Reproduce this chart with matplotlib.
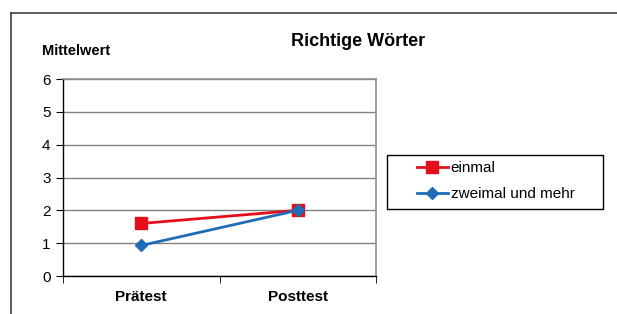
import matplotlib.pyplot as plt
from matplotlib.lines import Line2D
from matplotlib.patches import Rectangle

plt.rcParams['font.family'] = ['Liberation Sans', 'DejaVu Sans']

# data
categories = ["Prätest", "Posttest"]
einmal = [1.6, 2.0]
zweimal = [0.93, 2.0]
y_ticks = [0, 1, 2, 3, 4, 5, 6]

red = "#e3101b"
blue = "#1f6db5"

fig = plt.figure(figsize=(6.17, 3.14), dpi=100)
ax = fig.add_axes([63/617, 1 - 276/314, 313/617, 197/314])

x = list(range(len(categories)))
ax.plot(x, einmal, color=red, lw=2, marker="s", ms=8.5, label="einmal", zorder=3)
ax.plot(x, zweimal, color=blue, lw=2, marker="D", ms=6.5, label="zweimal und mehr", zorder=4)

ax.set_xlim(-0.5, len(categories) - 0.5)
ax.set_ylim(0, 6)
ax.set_yticks(y_ticks)
ax.set_yticklabels([str(v) for v in y_ticks], fontsize=11)
ax.yaxis.grid(True, color="#808080", lw=1)
ax.set_axisbelow(True)

# categories centred, ticks at boundaries
ax.set_xticks(x)
ax.set_xticklabels(categories, fontsize=11, fontweight="bold")
ax.tick_params(axis="x", length=0, pad=10)
ax.set_xticks([-0.5, 0.5, 1.5], minor=True)
ax.tick_params(axis="x", which="minor", length=5, direction="out", color="black")
ax.tick_params(axis="y", length=5, direction="out", color="black", pad=4)

for s in ["top", "right"]:
    ax.spines[s].set_color("#909090")
    ax.spines[s].set_linewidth(1.2)
for s in ["left", "bottom"]:
    ax.spines[s].set_color("black")
    ax.spines[s].set_linewidth(1)

fig.text(358/617, 1 - 42/314, "Richtige Wörter", ha="center", va="center",
         fontsize=13, fontweight="bold")
fig.text(42/617, 1 - 51/314, "Mittelwert", ha="left", va="center",
         fontsize=10.5, fontweight="bold")

# legend with its own frame box
fig.legend(loc="upper left", bbox_to_anchor=(417/617, 1 - 161/314),
           frameon=False, fontsize=11, handlelength=2.0, handletextpad=0.2,
           borderpad=0, labelspacing=0.8, borderaxespad=0)
fig.add_artist(Rectangle((387/617, 1 - 209/314), 216/617, 54/314, fill=False,
                         edgecolor="black", lw=1, transform=fig.transFigure))

# outer chart frame
fig.add_artist(Line2D([11/617, 11/617], [0, 1 - 13/314], color="#404040", lw=1.2,
                      transform=fig.transFigure))
fig.add_artist(Line2D([11/617, 1], [1 - 13/314, 1 - 13/314], color="#404040", lw=1.2,
                      transform=fig.transFigure))

fig.savefig("out.png", dpi=100)
